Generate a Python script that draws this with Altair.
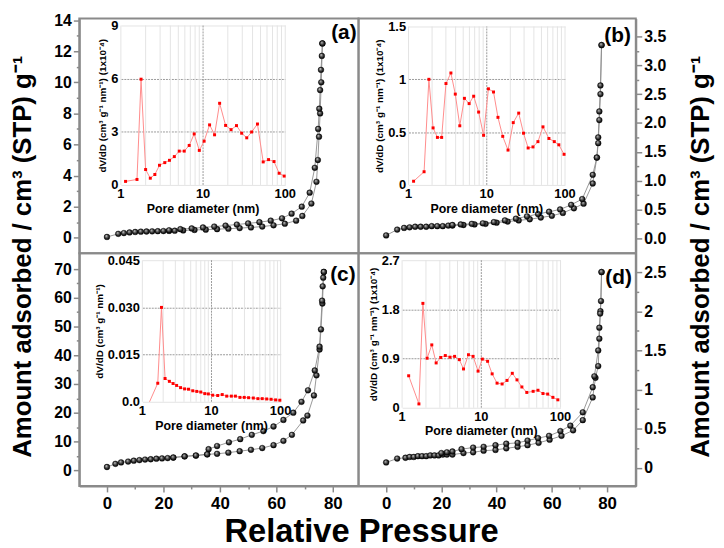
import altair as alt
import pandas as pd

FONT = "Liberation Sans"

# ---------------- isotherm data: relative pressure (%) vs amount adsorbed ----------------
a_ads_P = [0, 4, 6, 8, 10, 12, 14, 16, 18, 20, 22, 24, 27, 31, 35, 39, 43, 47, 51, 55, 59, 63, 67, 69.2, 72.4, 74.2, 74.7, 75.1, 75.5, 75.9, 76.3]
a_ads_A = [0.05, 0.25, 0.3, 0.34, 0.37, 0.39, 0.4, 0.41, 0.42, 0.43, 0.44, 0.45, 0.47, 0.5, 0.52, 0.55, 0.58, 0.62, 0.66, 0.72, 0.8, 0.9, 1.1, 1.4, 2.2, 3.6, 5.0, 6.5, 8.0, 10.0, 12.5]
a_des_P = [76.3, 76.1, 75.8, 75.5, 75.2, 74.8, 73.6, 71.8, 69.0, 65.4, 62, 58, 54, 50, 46, 42, 38, 34, 30, 26, 22]
a_des_A = [12.5, 11.7, 10.8, 9.5, 8.3, 7.0, 4.5, 2.9, 2.0, 1.55, 1.25, 1.1, 1.0, 0.92, 0.85, 0.78, 0.72, 0.66, 0.6, 0.55, 0.48]

b_ads_P = [0, 4, 6.5, 8.5, 10.5, 12.5, 14.5, 16.5, 18.5, 20.5, 22.5, 24, 28, 32, 36, 40, 44, 48, 52, 56, 60, 64, 68, 71.5, 74.8, 76.3, 76.8, 77.2, 77.6, 78]
b_ads_A = [0.05, 0.15, 0.18, 0.19, 0.2, 0.2, 0.2, 0.21, 0.21, 0.21, 0.22, 0.22, 0.23, 0.24, 0.25, 0.27, 0.29, 0.31, 0.33, 0.36, 0.39, 0.44, 0.52, 0.6, 0.95, 1.4, 1.75, 2.2, 2.65, 3.35]
b_des_P = [78, 77.6, 77.2, 76.8, 76.3, 74.8, 71, 67, 63, 59, 55, 51, 47, 43, 39, 35, 31, 27, 24]
b_des_A = [3.35, 2.5, 2.05, 1.65, 1.4, 1.1, 0.68, 0.58, 0.5, 0.46, 0.42, 0.38, 0.34, 0.31, 0.28, 0.26, 0.25, 0.24, 0.23]

c_ads_P = [0, 3, 5, 7.5, 9.5, 11.5, 13.5, 15.5, 17.5, 19.5, 21.5, 23.5, 27.5, 31.5, 35.5, 39, 43, 47, 51, 55, 59, 62.5, 65.5, 69.5, 71, 73.3, 74.2, 75.3, 75.8, 76.3, 76.8]
c_ads_A = [1.1, 2.2, 2.7, 3.0, 3.3, 3.5, 3.7, 3.8, 4.0, 4.1, 4.2, 4.4, 4.8, 5.1, 5.5, 5.7, 6.1, 6.6, 7.1, 7.7, 8.7, 10.2, 12.3, 17.3, 19.0, 26.0, 33.0, 42.0, 49.0, 58.0, 69.0]
c_des_P = [76.8, 76.6, 76.4, 76.2, 75.3, 73.6, 71.2, 68.9, 66, 62.5, 59, 55.4, 51.3, 47.2, 43.2, 39, 36, 35.5, 31.5, 27.5, 23.5]
c_des_A = [69, 67, 64, 59, 43, 34.7, 27.8, 23.8, 20, 17.5, 15.2, 13.6, 12.3, 10.8, 9.7, 8.4, 7.3, 5.5, 5.1, 4.8, 4.4]

d_ads_P = [0, 4, 7, 8.5, 10, 11.5, 13, 14.5, 16, 17.5, 19, 20.5, 22, 24, 28, 31.5, 35.3, 39.6, 43.5, 47.6, 51.2, 55.2, 59.2, 63.5, 67.7, 71.2, 74.8, 75.8, 76.8, 77.2, 77.6, 78]
d_ads_A = [0.07, 0.12, 0.13, 0.14, 0.14, 0.15, 0.15, 0.15, 0.16, 0.16, 0.16, 0.17, 0.17, 0.17, 0.19, 0.2, 0.22, 0.23, 0.25, 0.27, 0.29, 0.32, 0.36, 0.41, 0.48, 0.61, 0.9, 1.15, 1.3, 1.65, 2.0, 2.5]
d_des_P = [78, 77.8, 77.5, 77.2, 76.8, 75.4, 74.8, 71.2, 66.7, 63.1, 59, 55, 51.2, 47.6, 43.5, 39.6, 35.3, 31.5, 27.3, 24, 22, 20]
d_des_A = [2.5, 2.13, 1.97, 1.79, 1.5, 1.17, 1.03, 0.71, 0.54, 0.47, 0.41, 0.38, 0.35, 0.32, 0.31, 0.29, 0.27, 0.26, 0.24, 0.21, 0.2, 0.19]

# ---------------- pore size distribution (insets) ----------------
a_psd_D = [1.14, 1.57, 1.76, 2.0, 2.28, 2.59, 2.95, 3.42, 3.9, 4.47, 5.13, 5.9, 6.78, 7.8, 9.0, 10.3, 12.0, 13.8, 15.9, 18.8, 21.9, 25.5, 29.5, 34.0, 39.0, 45.9, 53.9, 62.6, 73.0, 84.3, 97.0]
a_psd_V = [0.2, 0.31, 5.97, 0.87, 0.38, 0.59, 1.11, 1.26, 1.39, 1.6, 1.91, 1.91, 2.23, 2.88, 1.95, 2.47, 3.39, 2.83, 4.61, 3.36, 3.12, 3.35, 2.92, 2.66, 2.99, 3.44, 1.3, 1.43, 1.32, 0.66, 0.5]

b_psd_D = [1.16, 1.58, 1.82, 2.06, 2.34, 2.65, 3.01, 3.48, 3.96, 4.52, 5.18, 5.95, 6.8, 7.87, 9.1, 10.5, 12.2, 13.9, 16.0, 18.7, 21.8, 25.6, 29.5, 33.8, 39.0, 45.1, 52.3, 62.3, 73.0, 83.4, 97.3]
b_psd_V = [0.035, 0.125, 1.0, 0.54, 0.45, 0.45, 0.96, 1.06, 0.86, 0.56, 0.82, 0.77, 0.84, 0.69, 0.47, 0.91, 0.88, 0.64, 0.46, 0.33, 0.59, 0.68, 0.49, 0.35, 0.36, 0.41, 0.55, 0.44, 0.41, 0.38, 0.29]

c_psd_D = [1.27, 1.67, 1.89, 2.13, 2.46, 2.78, 3.13, 3.57, 4.08, 4.65, 5.36, 6.13, 7.0, 8.0, 9.0, 10.4, 12.3, 14.3, 16.6, 19.4, 22.2, 25.8, 29.8, 34.4, 40.3, 46.9, 54.2, 62.9, 72.9, 84.7, 97.5]
c_psd_V = [0.0, 0.0059, 0.030, 0.0074, 0.0065, 0.0058, 0.0052, 0.0045, 0.0041, 0.004, 0.0035, 0.0033, 0.0031, 0.0026, 0.0025, 0.0021, 0.002, 0.0023, 0.0018, 0.0018, 0.0018, 0.0014, 0.0014, 0.0013, 0.0012, 0.001, 0.001, 0.0009, 0.0008, 0.0006, 0.0005]

d_psd_D = [1.21, 1.63, 1.83, 2.07, 2.37, 2.69, 3.07, 3.51, 4.02, 4.6, 5.27, 5.96, 6.88, 7.87, 9.1, 10.3, 12.0, 13.7, 15.8, 18.3, 21.1, 24.6, 28.2, 32.5, 37.5, 45.1, 51.9, 60.0, 68.8, 80.1, 92.5]
d_psd_V = [0.585, 0.07, 1.91, 0.906, 1.15, 0.82, 0.92, 0.955, 0.925, 0.94, 0.88, 0.71, 0.97, 0.94, 0.67, 0.89, 0.85, 0.62, 0.45, 0.435, 0.5, 0.63, 0.51, 0.38, 0.28, 0.3, 0.32, 0.26, 0.25, 0.19, 0.145]

# ---------------- texts / ticks ----------------
panel_labels = ["(a)", "(b)", "(c)", "(d)"]
y_title = "Amount adsorbed / cm\u00b3 (STP) g\u207b\u00b9"
x_title = "Relative Pressure"
inset_x_title = "Pore diameter (nm)"
inset_y_title_scaled = "dV/dD (cm\u00b3 g\u207b\u00b9 nm\u207b\u00b9) (1x10\u207b\u2074)"
inset_y_title_plain = "dV/dD (cm\u00b3 g\u207b\u00b9 nm\u207b\u00b9)"
x_ticks = [0, 10, 20, 30, 40, 50, 60, 70, 80]
inset_x_ticks = [1, 2, 3, 4, 5, 6, 7, 8, 9, 10, 20, 30, 40, 50, 60, 70, 80, 90, 100]
inset_x_labels = [1, 10, 100]
a_yticks = list(range(0, 15))
b_yticks = [i * 0.25 for i in range(0, 15)]
c_yticks = list(range(0, 75, 5))
d_yticks = [i * 0.25 for i in range(0, 11)]
a_inset_yticks = [0, 3, 6, 9]
b_inset_yticks = [0, 0.5, 1, 1.5]
c_inset_yticks = [0, 0.015, 0.030, 0.045]
d_inset_yticks = [0, 0.9, 1.8, 2.7]

GRAY = "#8a8a8a"
sphere = {
    "gradient": "radial", "x1": 0.35, "y1": 0.3, "r1": 0.0,
    "x2": 0.5, "y2": 0.5, "r2": 0.55,
    "stops": [
        {"offset": 0, "color": "#f2f2f2"},
        {"offset": 0.3, "color": "#7a7a7a"},
        {"offset": 0.75, "color": "#151515"},
        {"offset": 1, "color": "#000000"},
    ],
}


def iso_df(ap, aa, dp, da):
    rows = [{"P": p, "A": a, "branch": "ads", "i": i} for i, (p, a) in enumerate(zip(ap, aa))]
    rows += [{"P": p, "A": a, "branch": "des", "i": i} for i, (p, a) in enumerate(zip(dp, da))]
    return pd.DataFrame(rows)


def major_test(step):
    return f"abs(datum.value/{step} - round(datum.value/{step})) < 0.000001"


def panel(iso, psd_D, psd_V, W, H, xdom, ydom, yticks, ystep, yfmt, yorient, show_x,
          label, lab_xy, ins_x, ins_y, ins_ydom, ins_yticks, ins_ylab, ins_ytitle, big_title=None):
    test = major_test(ystep)
    ykw = dict(
        orient=yorient, values=yticks, labelOverlap=False,
        labelExpr=f"{test} ? {yfmt} : ''",
        tickSize={"condition": {"test": test, "value": 6}, "value": 3},
        labelFontSize=16, labelPadding=2, domainWidth=2, tickWidth=1.5,
    )
    if big_title is not None:
        ykw.update(title=y_title, titleAngle=270, titleX=big_title[0], titleY=big_title[1],
                   titleAlign="center", titleBaseline="middle", titleFontSize=26)
    else:
        ykw.update(title=None)
    yaxis = alt.Axis(**ykw)
    if show_x:
        xt = major_test(20)
        xaxis = alt.Axis(
            values=x_ticks, title=None, labelOverlap=False,
            labelExpr=f"{xt} ? datum.label : ''",
            tickSize={"condition": {"test": xt, "value": 6}, "value": 3},
            labelFontSize=17, labelPadding=4, domainWidth=2, tickWidth=1.5,
        )
    else:
        xaxis = None
    xs = alt.Scale(domain=xdom, nice=False, zero=False)
    ys = alt.Scale(domain=ydom, nice=False, zero=False)
    base = alt.Chart(iso)
    lines = base.mark_line(color="#8c8c8c", strokeWidth=0.9).encode(
        x=alt.X("P:Q", scale=xs, axis=xaxis),
        y=alt.Y("A:Q", scale=ys, axis=yaxis),
        detail="branch:N",
        order="i:Q",
    )
    pts = base.mark_circle(size=34, fill=sphere, stroke="#000000", strokeWidth=0.4, opacity=1).encode(
        x=alt.X("P:Q", scale=xs, axis=xaxis),
        y=alt.Y("A:Q", scale=ys, axis=yaxis),
    )
    lab = alt.Chart(pd.DataFrame({"t": [label]})).mark_text(
        font=FONT, fontWeight="bold", fontSize=21, align="right", baseline="middle", color="black"
    ).encode(text="t:N", x=alt.value(lab_xy[0]), y=alt.value(lab_xy[1]))
    iso_layer = alt.layer(lines, pts, lab)

    # ---------------- inset ----------------
    psd = pd.DataFrame({"D": psd_D, "V": psd_V})
    ixs = alt.Scale(type="log", domain=[1, 100], range=list(ins_x), nice=False)
    iys = alt.Scale(domain=ins_ydom, range=[ins_y[1], ins_y[0]], nice=False, zero=False)
    inner = [v for v in ins_yticks[1:-1]]
    ytest = " || ".join(f"abs(datum.value - {v}) < 1e-9" for v in inner)
    iyaxis = alt.Axis(
        orient="left", offset=-ins_x[0], values=ins_yticks, grid=True, labelOverlap=False,
        gridColor={"condition": {"test": ytest, "value": "#9a9a9a"}, "value": "#e4e4e4"},
        gridDash={"condition": {"test": ytest, "value": [2, 1]}, "value": []},
        ticks=False, domain=False, labelExpr=ins_ylab, labelFontSize=13, labelPadding=3,
        title=ins_ytitle, titleFontSize=10, titlePadding=3,
    )
    # vertical grid (decades / sub-decades) as rules between the inset's y limits
    gdf = pd.DataFrame({"D": inset_x_ticks, "lo": ins_ydom[0], "hi": ins_ydom[1]})
    gbase = alt.Chart(gdf)
    genc = dict(
        x=alt.X("D:Q", scale=ixs, axis=None),
        y=alt.Y("lo:Q", scale=iys, axis=iyaxis),
        y2="hi:Q",
    )
    gminor = gbase.transform_filter("datum.D != 10").mark_rule(color="#e4e4e4", strokeWidth=1).encode(**genc)
    gmajor = gbase.transform_filter("datum.D == 10").mark_rule(
        color="#9a9a9a", strokeWidth=1, strokeDash=[2, 1]).encode(**genc)
    # x tick labels and title of the inset
    xl = alt.Chart(pd.DataFrame({"D": inset_x_labels})).mark_text(
        font=FONT, fontWeight="bold", fontSize=13, baseline="top", color="black"
    ).encode(
        x=alt.X("D:Q", scale=ixs, axis=None),
        y=alt.value(ins_y[1] + 3),
        text=alt.Text("D:Q", format="d"),
    )
    xtitle = alt.Chart(pd.DataFrame({"t": [inset_x_title]})).mark_text(
        font=FONT, fontWeight="bold", fontSize=12.5, baseline="top", color="black"
    ).encode(
        x=alt.value((ins_x[0] + ins_x[1]) / 2),
        y=alt.value(ins_y[1] + 18),
        text="t:N",
    )
    pbase = alt.Chart(psd)
    pline = pbase.mark_line(color="#ff8c8c", strokeWidth=1).encode(
        x=alt.X("D:Q", scale=ixs, axis=None),
        y=alt.Y("V:Q", scale=iys, axis=iyaxis),
    )
    ppts = pbase.mark_point(shape="square", filled=True, size=9, color="#ff0000", opacity=1).encode(
        x=alt.X("D:Q", scale=ixs, axis=None),
        y=alt.Y("V:Q", scale=iys, axis=iyaxis),
    ).transform_filter("datum.V > 0")
    inset_layer = alt.layer(gminor, gmajor, pline, ppts, xl, xtitle)

    return alt.layer(iso_layer, inset_layer).resolve_scale(x="independent", y="independent").properties(
        width=W, height=H
    )


WL, WR, HT, HB = 282, 280, 237, 235

pa = panel(iso_df(a_ads_P, a_ads_A, a_des_P, a_des_A), a_psd_D, a_psd_V, WL, HT,
           [-9.8, 89.1], [-1.0, 14.1], a_yticks, 2, "datum.label", "left", False,
           panel_labels[0], (280, 15), (42, 208), (7, 168), [0, 9], a_inset_yticks,
           "format(datum.value, '~g')", inset_y_title_scaled)
pb = panel(iso_df(b_ads_P, b_ads_A, b_des_P, b_des_A), b_psd_D, b_psd_V, WR, HT,
           [-10, 90.4], [-0.26, 3.81], b_yticks, 0.5, "format(datum.value, '.1f')", "right", False,
           panel_labels[1], (275, 18), (50.5, 208.5), (8, 168), [0, 1.5], b_inset_yticks,
           "format(datum.value, '~g')", inset_y_title_scaled)
pc = panel(iso_df(c_ads_P, c_ads_A, c_des_P, c_des_A), c_psd_D, c_psd_V, WL, HB,
           [-9.8, 89.1], [-5.5, 75.5], c_yticks, 10, "datum.label", "left", True,
           panel_labels[2], (279, 22), (63.7, 203.3), (7, 150), [0, 0.045], c_inset_yticks,
           "datum.value == 0 ? '0.0' : format(datum.value, '.3f')", inset_y_title_plain,
           big_title=(-57, 3))
pd_ = panel(iso_df(d_ads_P, d_ads_A, d_des_P, d_des_A), d_psd_D, d_psd_V, WR, HB,
            [-10, 90.4], [-0.23, 2.74], d_yticks, 0.5, "format(datum.value, '~g')", "right", True,
            panel_labels[3], (276, 25), (44, 204), (7, 156), [0, 2.7], d_inset_yticks,
            "format(datum.value, '~g')", inset_y_title_scaled,
            big_title=(65, 3))

chart = alt.concat(
    pa, pb, pc, pd_, columns=2, spacing=0, bounds="flush",
    title=alt.TitleParams(x_title, orient="bottom", anchor="middle", fontSize=33, offset=4),
).properties(
    padding={"left": 0, "top": 0, "right": 2, "bottom": 0}, background="white"
).configure_view(
    stroke=GRAY, strokeWidth=2
).configure_axis(
    labelFont=FONT, labelFontWeight="bold", labelColor="black",
    titleFont=FONT, titleFontWeight="bold", titleColor="black",
    domainColor=GRAY, tickColor=GRAY, grid=False,
).configure_title(
    font=FONT, fontWeight="bold", color="black"
)

chart.save("out.html", embed_options={"renderer": "svg", "actions": False})
